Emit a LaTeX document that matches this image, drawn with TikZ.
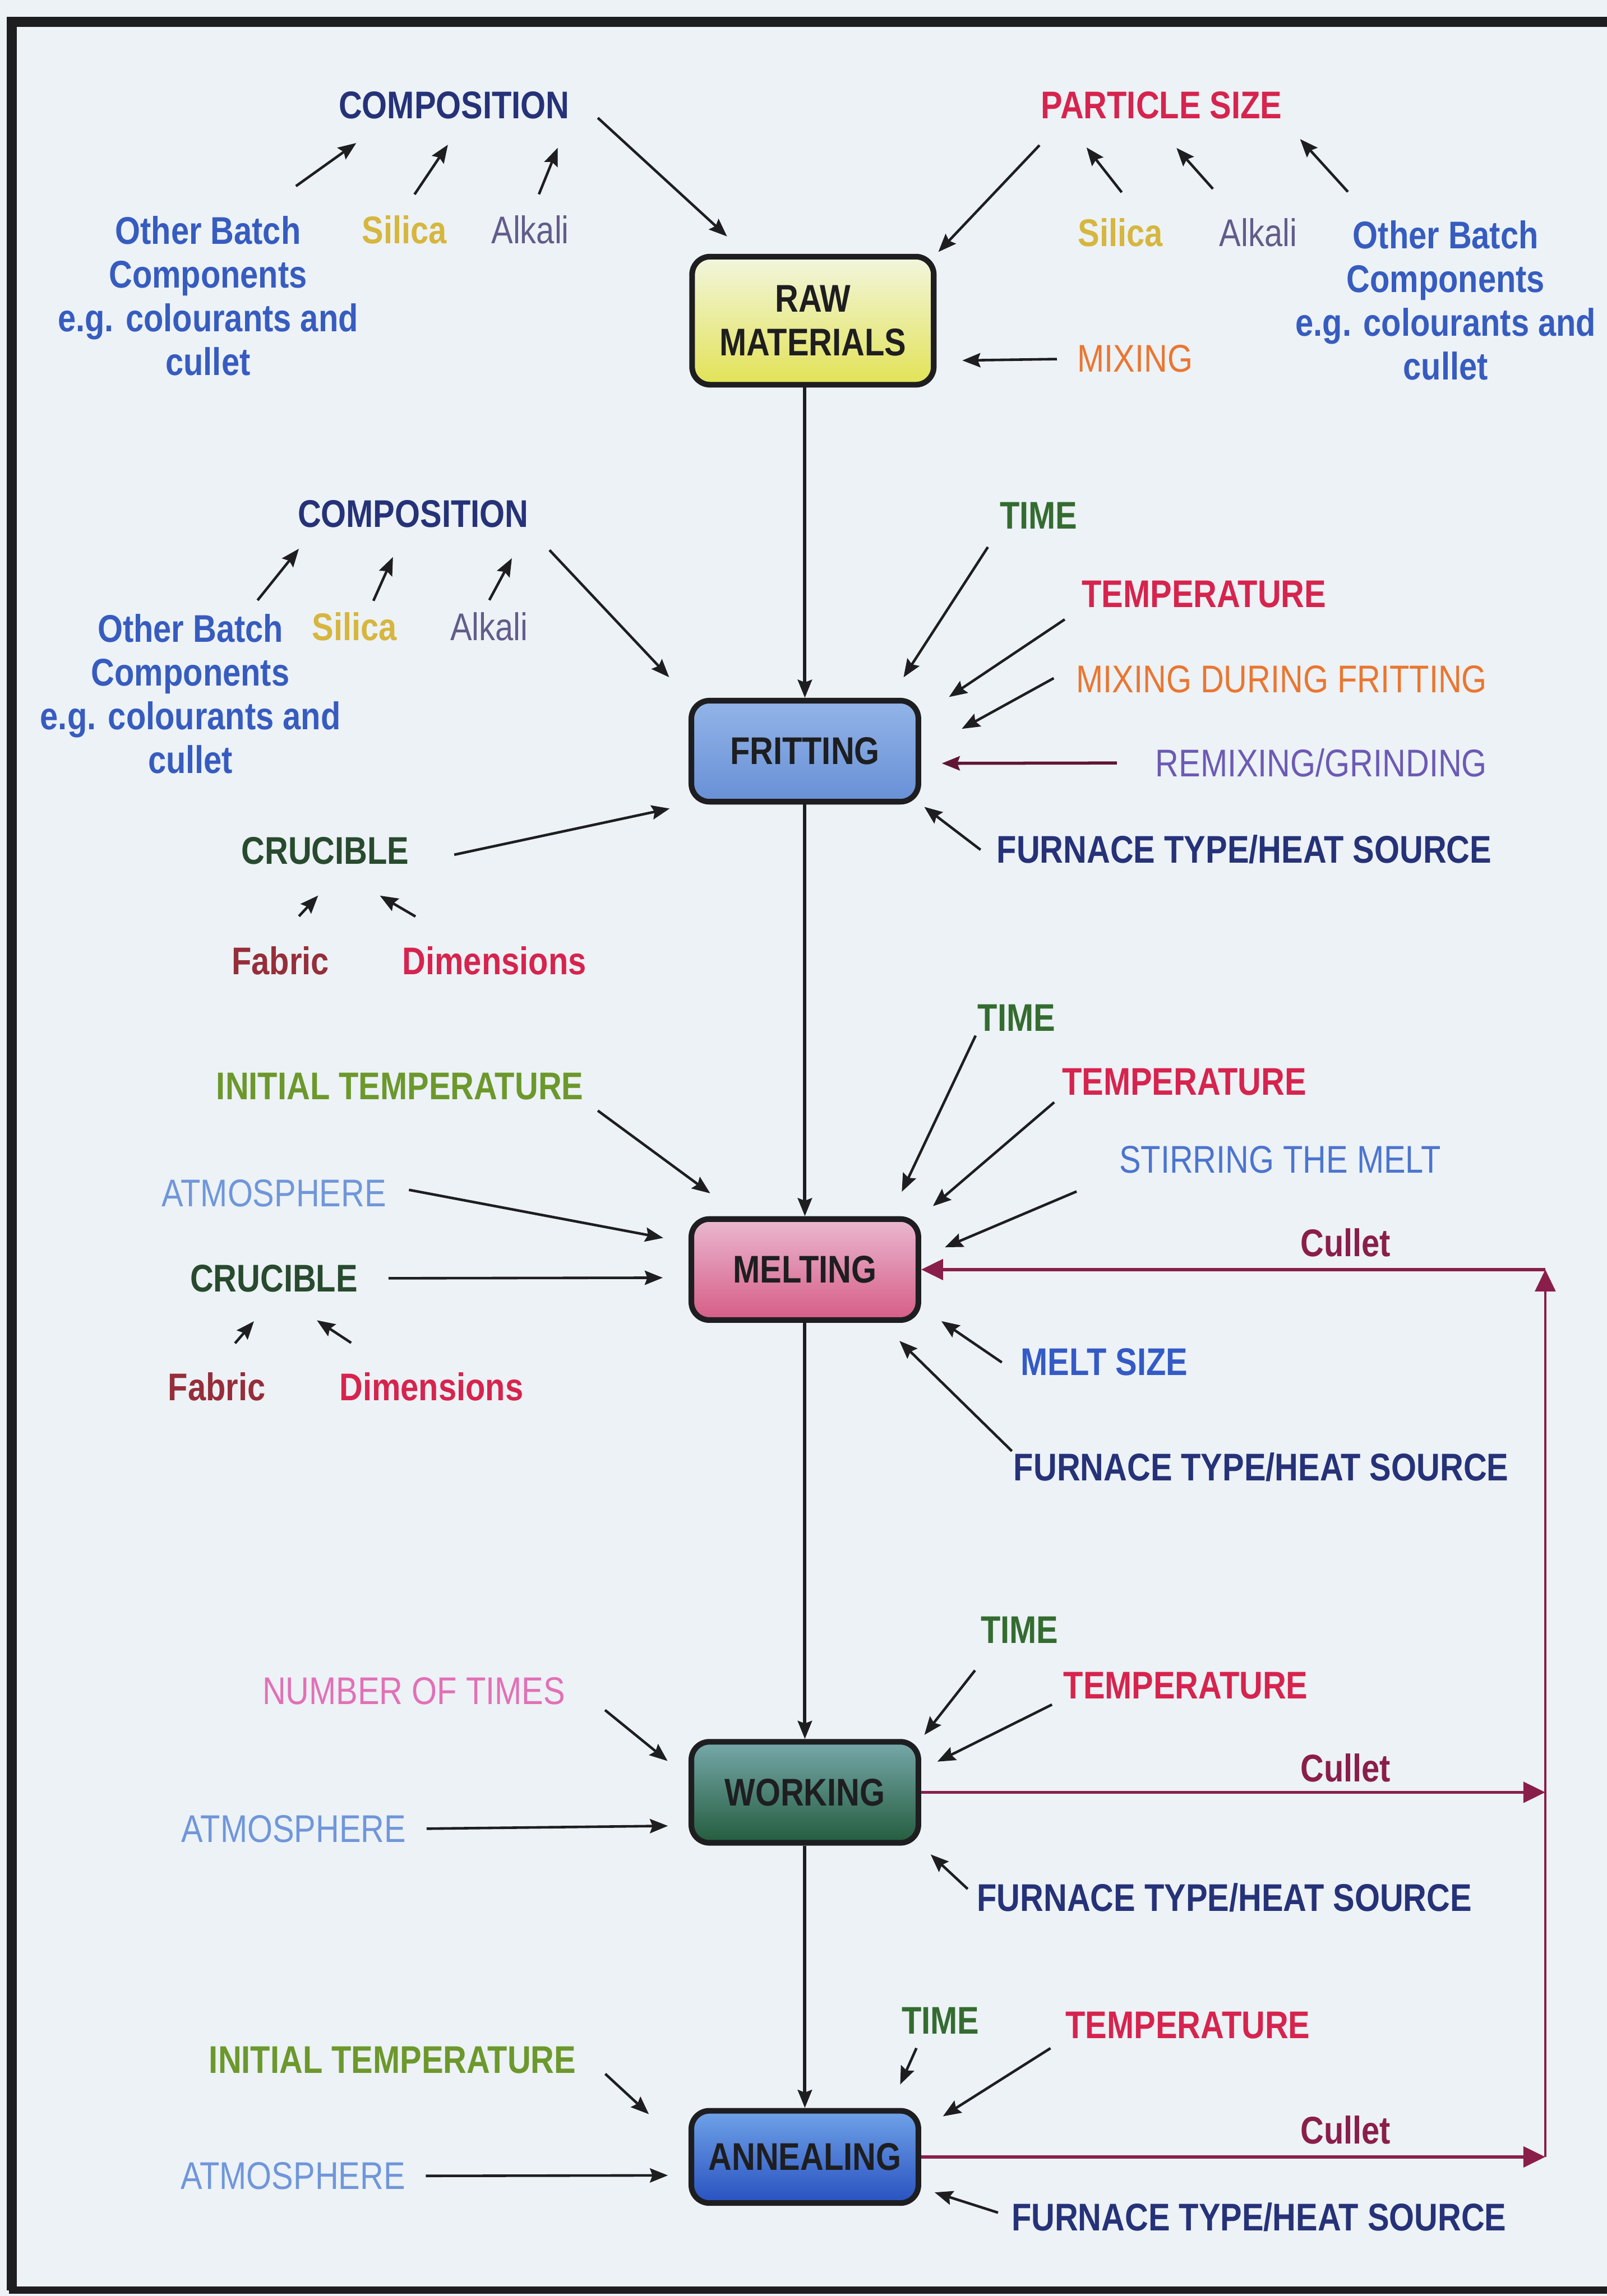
\documentclass[tikz,border=0pt]{standalone}
\usepackage{fontspec}
\setmainfont{Liberation Sans}[FakeStretch=0.84]
\usepackage{tikz}
\usetikzlibrary{arrows.meta,positioning}

\definecolor{bakgrunn}{RGB}{236,242,246}
\definecolor{ramme}{RGB}{30,30,32}
\definecolor{marine}{RGB}{38,50,120}
\definecolor{rosa}{RGB}{214,36,78}
\definecolor{blaa}{RGB}{55,92,192}
\definecolor{gull}{RGB}{214,182,62}
\definecolor{lilla}{RGB}{98,92,138}
\definecolor{oransje}{RGB}{234,118,48}
\definecolor{fiolett}{RGB}{108,90,180}
\definecolor{tid}{RGB}{52,108,48}
\definecolor{digel}{RGB}{40,74,46}
\definecolor{oliven}{RGB}{108,152,44}
\definecolor{luft}{RGB}{112,150,218}
\definecolor{roer}{RGB}{76,116,208}
\definecolor{smelte}{RGB}{52,90,198}
\definecolor{stoff}{RGB}{150,46,58}
\definecolor{antall}{RGB}{226,112,182}
\definecolor{kullet}{RGB}{138,30,74}
\definecolor{rawtopp}{RGB}{242,246,222}
\definecolor{rawbunn}{RGB}{226,226,86}
\definecolor{frittopp}{RGB}{146,180,232}
\definecolor{fritbunn}{RGB}{104,144,214}
\definecolor{melttopp}{RGB}{234,184,208}
\definecolor{meltbunn}{RGB}{214,92,134}
\definecolor{worktopp}{RGB}{118,168,170}
\definecolor{workbunn}{RGB}{36,92,62}
\definecolor{anntopp}{RGB}{112,162,232}
\definecolor{annbunn}{RGB}{40,82,192}

\tikzset{
    %Define standard arrow tip
    >={Stealth[length=7pt,width=5.5pt,inset=1pt]},
    %Define style for boxes
    boks/.style={
           rectangle, rounded corners=7pt,
           draw=ramme, line width=2.2pt,
           minimum width=3.1cm, minimum height=1.38cm,
           inner sep=0pt, align=center, text=ramme,
           font=\bfseries\fontsize{15}{17}\selectfont},
    %Define style for labels
    merk/.style={
           inner sep=0pt, outer sep=0pt, align=center,
           font=\bfseries\fontsize{15}{17}\selectfont},
    tynn/.style={
           inner sep=0pt, outer sep=0pt, align=center,
           font=\fontsize{15}{17}\selectfont},
    % Define arrow style
    pil/.style={
           ->,
           line width=1pt,
           draw=ramme}
}

\begin{document}
\begin{tikzpicture}[x=0.02cm, y=-0.02cm,
tilbake/.style={-{Triangle[length=8.5pt,width=8pt]}, line width=1.2pt, draw=kullet},
hoved/.style={pil, line width=1.3pt}
]
\useasboundingbox (0,0) rectangle (1097,1568);
\fill[bakgrunn] (0,0) rectangle (1097,1568);
\draw[ramme, line width=4pt] (1097,15) -- (8,15) -- (8,1564);
\draw[ramme, line width=3pt] (6,1564) -- (1097,1564);

%Stages
\node[boks, minimum width=3.3cm, minimum height=1.75cm, top color=rawtopp, bottom color=rawbunn] (raw) at (555,219) {RAW\\MATERIALS};
\node[boks, top color=frittopp, bottom color=fritbunn] (frit) at (549.5,513) {FRITTING};
\node[boks, top color=melttopp, bottom color=meltbunn] (melt) at (549.5,867) {MELTING};
\node[boks, top color=worktopp, bottom color=workbunn] (work) at (549.5,1224) {WORKING};
\node[boks, minimum height=1.26cm, top color=anntopp, bottom color=annbunn] (anneal) at (549.5,1473) {ANNEALING};

\draw[hoved] (frit.north |- raw.south) -- (frit.north);
\draw[hoved] (frit.south) -- (melt.north);
\draw[hoved] (melt.south) -- (work.north);
\draw[hoved] (work.south) -- (anneal.north);

%Raw materials
\node[merk, text=marine] (comp1) at (310,72) {COMPOSITION};
\node[merk, text=rosa] (size1) at (793,72) {PARTICLE SIZE};
\node[merk, text=blaa] (batch1) at (142,202) {Other Batch\\Components\\e.g. colourants and\\cullet};
\node[merk, text=gull] (silica1) at (276,157) {Silica};
\node[tynn, text=lilla] (alkali1) at (362,157) {Alkali};
\node[merk, text=gull] (silica2) at (765,159) {Silica};
\node[tynn, text=lilla] (alkali2) at (859,159) {Alkali};
\node[merk, text=blaa] (batch2) at (987,205) {Other Batch\\Components\\e.g. colourants and\\cullet};
\node[tynn, text=oransje] (mix1) at (775,245) {MIXING};

\draw[pil, shorten <=20pt, shorten >=16pt] (batch1.60) -- (comp1.-168);
\draw[pil, shorten <=10pt, shorten >=12pt] (silica1.106) -- (comp1.-51);
\draw[pil, shorten <=9pt, shorten >=12pt] (alkali1.north) -- (comp1.south east);
\draw[pil, shorten <=15pt, shorten >=10pt] (comp1.north east) -- (raw.135);
\draw[pil, shorten <=14pt, shorten >=1pt] (size1.-172) -- (raw.north east);
\draw[pil, shorten <=13pt, shorten >=14pt] (silica2.33) -- (size1.-172);
\draw[pil, shorten <=15.5pt, shorten >=15pt] (alkali2.143) -- (size1.-128);
\draw[pil, shorten <=15pt, shorten >=10.5pt] (batch2.132) -- (size1.south east);
\draw[pil, shorten <=8pt, shorten >=10pt] (mix1.west) -- (raw.-18);

%Fritting
\node[merk, text=marine] (comp2) at (282,351) {COMPOSITION};
\node[merk, text=blaa] (batch3) at (130,474) {Other Batch\\Components\\e.g. colourants and\\cullet};
\node[merk, text=gull] (silica3) at (242,428) {Silica};
\node[tynn, text=lilla] (alkali3) at (334,428) {Alkali};
\node[merk, text=tid] (time1) at (709,352) {TIME};
\node[merk, text=rosa] (temp1) at (822,406) {TEMPERATURE};
\node[tynn, text=oransje] (mixf) at (875,464) {MIXING DURING FRITTING};
\node[tynn, text=fiolett] (remix) at (902,521) {REMIXING/GRINDING};
\node[merk, text=marine] (furn1) at (849.5,580) {FURNACE TYPE/HEAT SOURCE};
\node[merk, text=digel] (cruc1) at (222,581) {CRUCIBLE};
\node[merk, text=stoff] (fab1) at (191.5,656) {Fabric};
\node[merk, text=rosa] (dim1) at (337.5,656) {Dimensions};

\draw[pil, shorten <=7pt, shorten >=10.5pt] (batch3.55) -- (comp2.-172);
\draw[pil, shorten <=5pt, shorten >=12.5pt] (silica3.46) -- (comp2.-117);
\draw[pil, shorten <=5.5pt, shorten >=13.5pt] (alkali3.115) -- (comp2.south east);
\draw[pil, shorten <=12pt, shorten >=11pt] (comp2.south east) -- (frit.north west);
\draw[pil, shorten <=8.5pt, shorten >=9.5pt] (time1.south west) -- (frit.32);
\draw[pil, shorten <=8pt, shorten >=13pt] (temp1.south west) -- (frit.17);
\draw[pil, shorten <=10pt, shorten >=18pt] (mixf.north west) -- (frit.east);
\draw[pil, draw=kullet!70!black, line width=1.2pt, shorten <=15pt, shorten >=8pt] (remix.west) -- (frit.-6);
\draw[pil, shorten <=8pt, shorten >=1.5pt] (furn1.-177) -- (frit.south east);
\draw[pil, shorten <=18pt, shorten >=7.5pt] (cruc1.south east) -- (frit.south west);
\draw[pil, shorten <=16pt, shorten >=16.5pt] (fab1.124) -- (cruc1.-32);
\draw[pil, shorten <=23pt, shorten >=24pt] (dim1.153) -- (cruc1.-84);

%Melting
\node[merk, text=tid] (time2) at (694,695) {TIME};
\node[merk, text=rosa] (temp2) at (808.5,739) {TEMPERATURE};
\node[tynn, text=roer] (stir) at (874,792) {STIRRING THE MELT};
\node[merk, text=oliven] (inittemp1) at (273,742) {INITIAL TEMPERATURE};
\node[tynn, text=luft] (atm1) at (187,815) {ATMOSPHERE};
\node[merk, text=digel] (cruc2) at (187,873) {CRUCIBLE};
\node[merk, text=stoff] (fab2) at (148,947) {Fabric};
\node[merk, text=rosa] (dim2) at (294.5,947) {Dimensions};
\node[merk, text=smelte] (meltsize) at (754,930) {MELT SIZE};
\node[merk, text=marine] (furn2) at (861,1002) {FURNACE TYPE/HEAT SOURCE};

\draw[pil, shorten <=2pt, shorten >=10.5pt] (time2.south west) -- (melt.32);
\draw[pil, shorten <=4pt, shorten >=6pt] (temp2.south west) -- (melt.north east);
\draw[pil, shorten <=18pt, shorten >=10pt] (stir.south west) -- (melt.6);
\draw[pil, shorten <=7pt, shorten >=15pt] (inittemp1.south east) -- (melt.140);
\draw[pil, shorten <=9pt, shorten >=10pt] (atm1.4) -- (melt.167);
\draw[pil, shorten <=12pt, shorten >=10pt] (cruc2.east) -- (melt.-176);
\draw[pil, shorten <=15pt, shorten >=15pt] (fab2.116) -- (cruc2.-69);
\draw[pil, shorten <=21pt, shorten >=20pt] (dim2.158) -- (cruc2.south);
\draw[pil, shorten <=9pt, shorten >=9.5pt] (meltsize.south west) -- (melt.-18);
\draw[pil, shorten <=1pt, shorten >=10pt] (furn2.north west) -- (melt.-35);

%Working
\node[merk, text=tid] (time3) at (696,1113) {TIME};
\node[merk, text=rosa] (temp3) at (809.5,1151) {TEMPERATURE};
\node[tynn, text=antall] (numtimes) at (282.5,1155) {NUMBER OF TIMES};
\node[tynn, text=luft] (atm2) at (200.5,1249) {ATMOSPHERE};
\node[merk, text=marine] (furn3) at (836,1296) {FURNACE TYPE/HEAT SOURCE};

\draw[pil, shorten <=13.5pt, shorten >=2pt] (time3.-150) -- (work.north east);
\draw[pil, shorten <=5pt, shorten >=7pt] (temp3.south west) -- (work.11);
\draw[pil, shorten <=20pt, shorten >=10.5pt] (numtimes.north east) -- (work.173);
\draw[pil, shorten <=8pt, shorten >=8pt] (atm2.east) -- (work.-164);
\draw[pil, shorten <=5pt, shorten >=5pt] (furn3.west) -- (work.south east);

%Annealing
\node[merk, text=tid] (time4) at (642,1380) {TIME};
\node[merk, text=rosa] (temp4) at (811,1383) {TEMPERATURE};
\node[merk, text=oliven] (inittemp2) at (268,1407) {INITIAL TEMPERATURE};
\node[tynn, text=luft] (atm3) at (200,1486) {ATMOSPHERE};
\node[merk, text=marine] (furn4) at (859.5,1514) {FURNACE TYPE/HEAT SOURCE};

\draw[pil, shorten <=6pt, shorten >=10pt] (time4.-143) -- (anneal.30);
\draw[pil, shorten <=7pt, shorten >=10pt] (temp4.south west) -- (anneal.13);
\draw[pil, shorten <=15.5pt, shorten >=21pt] (inittemp2.north east) -- (anneal.177);
\draw[pil, shorten <=8pt, shorten >=8pt] (atm3.east) -- (anneal.-171);
\draw[pil, shorten <=5.5pt, shorten >=5.5pt] (furn4.west) -- (anneal.-15);

%Cullet loop
\coordinate (ret) at (1055,1000);
\draw[tilbake] (work.east) -- node[merk, text=kullet, pos=.68, above=4pt] (cullet2) {Cullet} (ret |- work.east);
\draw[tilbake] (anneal.east) -- node[merk, text=kullet, pos=.68, above=5pt] (cullet3) {Cullet} (ret |- anneal.east);
\draw[tilbake, line width=.7pt] (ret |- anneal.east) -- (ret |- melt.east);
\draw[tilbake] (ret |- melt.east) -- node[merk, text=kullet, pos=.32, above=5pt] (cullet1) {Cullet} (melt.east);
\end{tikzpicture}
\end{document}
